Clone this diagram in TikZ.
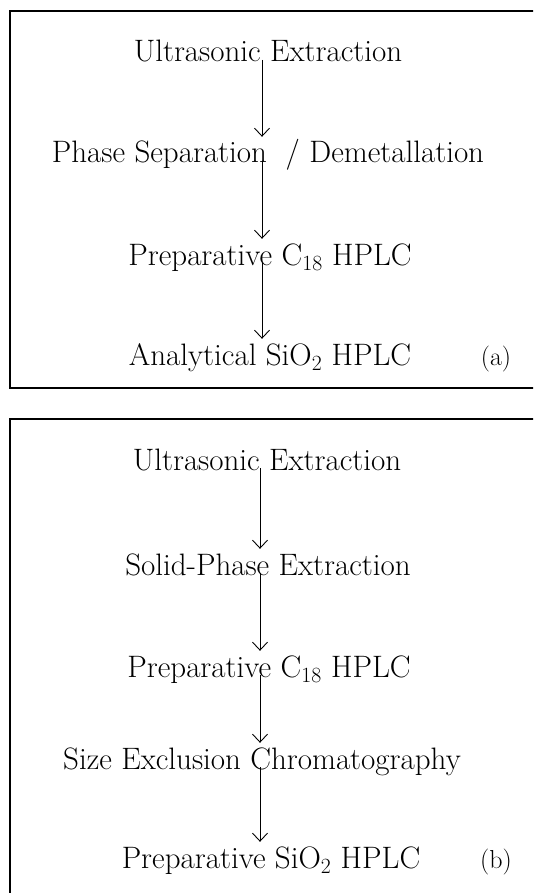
\documentclass[tikz,border=0pt]{standalone}
\usetikzlibrary{arrows.meta}
\begin{document}
\begin{tikzpicture}[x=1pt,y=-1pt,
  lbl/.style={inner sep=0pt, anchor=base, font=\fontsize{31}{36}\selectfont, text height=20pt},
  tag/.style={inner sep=0pt, anchor=base, font=\fontsize{26}{30}\selectfont},
  frame/.style={line width=1.7pt},
  arr/.style={line width=0.9pt, -{Straight Barb[length=8pt,width=15pt,line width=0.9pt]}, shorten >=6pt, shorten <=-2pt}]
\useasboundingbox (0,0) rectangle (533,893);
\clip (0,0) rectangle (533,893);
% frames
\draw[frame] (545,11) -- (10,11) -- (10,388) -- (545,388);
\draw[frame] (545,419) -- (10,419) -- (10,900);
% column coordinates for arrows
\coordinate (ax) at (262,0);
\coordinate (bx) at (260,0);
% panel (a)
\node[lbl] (a1) at (268,62) {Ultrasonic Extraction};
\node[lbl] (a2) at (268,163) {Phase Separation\ \ / Demetallation};
\node[lbl] (a3) at (270,265) {Preparative C\textsubscript{18} HPLC};
\node[lbl] (a4) at (270,365) {Analytical SiO\textsubscript{2} HPLC};
\node[tag] (la) at (496,365) {(a)};
\draw[arr] (a1.base -| ax) -- (a2.north -| ax);
\draw[arr] (a2.base -| ax) -- (a3.north -| ax);
\draw[arr] (a3.base -| ax) -- (a4.north -| ax);
% panel (b)
\node[lbl] (b1) at (267,470) {Ultrasonic Extraction};
\node[lbl] (b2) at (268,575) {Solid-Phase Extraction};
\node[lbl] (b3) at (269,677) {Preparative C\textsubscript{18} HPLC};
\node[lbl] (b4) at (262,769) {Size Exclusion Chromatography};
\node[lbl] (b5) at (271,868) {Preparative SiO\textsubscript{2} HPLC};
\node[tag] (lb) at (496,868) {(b)};
\draw[arr] (b1.base -| bx) -- (b2.north -| bx);
\draw[arr] (b2.base -| bx) -- (b3.north -| bx);
\draw[arr] (b3.base -| bx) -- (b4.north -| bx);
\draw[arr] (b4.base -| bx) -- (b5.north -| bx);
\end{tikzpicture}
\end{document}
